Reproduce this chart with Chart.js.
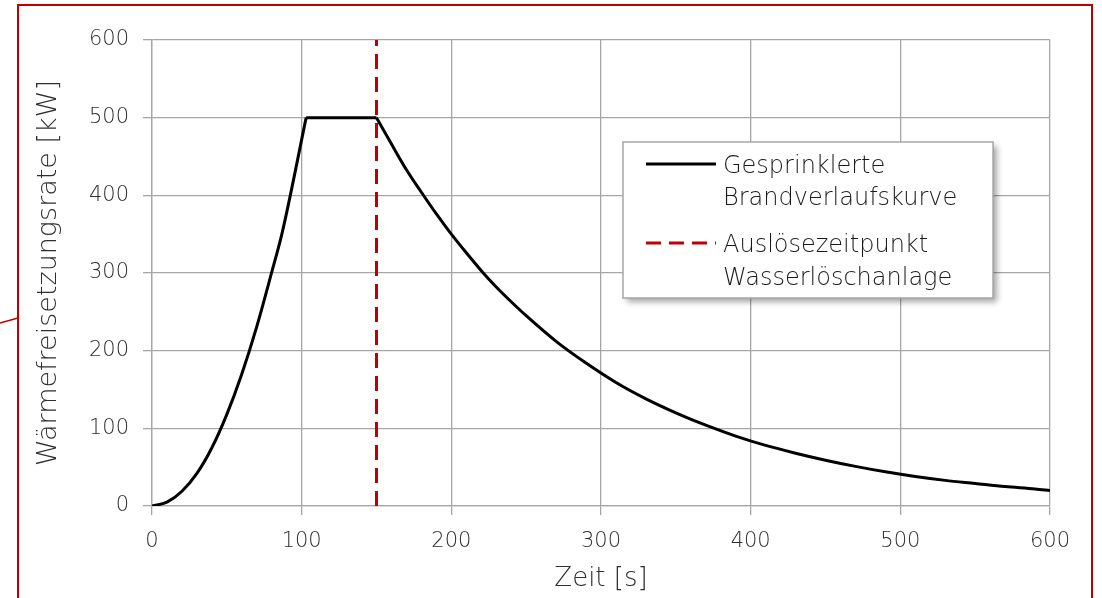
<!DOCTYPE html>
<html>
<head>
<meta charset="utf-8">
<script src="https://cdn.jsdelivr.net/npm/chart.js@4.4.0/dist/chart.umd.min.js"></script>
<style>
  html, body { margin: 0; padding: 0; background: #fff; }
  #wrap { position: relative; width: 1102px; height: 598px; }
</style>
</head>
<body>
<div id="wrap"><canvas id="hrrChart" width="1102" height="598"></canvas></div>
<script>
// Brandverlaufskurve, split in growth / plateau / decay
const growthTime = [0, 10, 20, 30, 40, 50, 60, 70, 80, 87, 103];
const growthHrr  = [0, 5, 19, 42, 75, 118, 170, 231, 301, 352, 500];
const plateauTime = [103, 150];
const plateauHrr  = [500, 500];
const decayTime = [150, 160, 170, 180, 190, 200, 210, 220, 230, 240, 250, 270, 290, 310, 330, 350, 370, 390, 410, 430, 450, 470, 490, 510, 530, 550, 570, 590, 600];
const decayHrr  = [500, 466, 433, 404, 376, 350, 326, 303, 282, 263, 245, 212, 184, 159, 138, 120, 104, 90, 78, 68, 59, 51, 44, 38, 33, 29, 25, 22, 20];

const triggerTime = 150;
const triggerRange = [0, 600];

const xTicks = [0, 100, 200, 300, 400, 500, 600];
const yTicks = [0, 100, 200, 300, 400, 500, 600];

const legendLabels = [
  ["Gesprinklerte", "Brandverlaufskurve"],
  ["Auslösezeitpunkt", "Wasserlöschanlage"]
];

const fontFamily = "'DejaVu Sans', sans-serif";
const fontWeight = 200;
const textColor = "#2e2e2e";
const red = "#c00000";

const toPoints = (xs, ys) => xs.map((x, i) => ({ x: x, y: ys[i] }));
const triggerPoints = triggerRange.map(v => ({ x: triggerTime, y: v }));

function curveSet(label, xs, ys) {
  return {
    label: label,
    data: toPoints(xs, ys),
    borderColor: "#000",
    borderWidth: 3,
    pointRadius: 0,
    cubicInterpolationMode: "monotone",
    borderJoinStyle: "round",
    fill: false
  };
}

// legend box + frame decorations
const decoPlugin = {
  id: "deco",
  afterDraw(chart) {
    const ctx = chart.ctx;
    ctx.save();

    // red frame
    ctx.strokeStyle = red;
    ctx.lineWidth = 2;
    ctx.beginPath();
    ctx.moveTo(18, 620);
    ctx.lineTo(18, 5);
    ctx.lineTo(1092, 5);
    ctx.lineTo(1092, 620);
    ctx.stroke();
    ctx.lineWidth = 1.5;
    ctx.beginPath();
    ctx.moveTo(0, 323);
    ctx.lineTo(18, 318);
    ctx.stroke();

    // legend box
    const bx = 623, by = 142, bw = 370, bh = 156;
    ctx.shadowColor = "rgba(0,0,0,0.35)";
    ctx.shadowBlur = 6;
    ctx.shadowOffsetX = 4;
    ctx.shadowOffsetY = 4;
    ctx.fillStyle = "#fff";
    ctx.fillRect(bx, by, bw, bh);
    ctx.shadowColor = "transparent";
    ctx.strokeStyle = "#a6a6a6";
    ctx.lineWidth = 1.5;
    ctx.strokeRect(bx, by, bw, bh);

    // legend samples
    ctx.lineWidth = 3;
    ctx.strokeStyle = "#000";
    ctx.setLineDash([]);
    ctx.beginPath();
    ctx.moveTo(646, 164);
    ctx.lineTo(716, 164);
    ctx.stroke();
    ctx.strokeStyle = red;
    ctx.setLineDash([15, 8]);
    ctx.beginPath();
    ctx.moveTo(646, 243);
    ctx.lineTo(716, 243);
    ctx.stroke();
    ctx.setLineDash([]);

    ctx.fillStyle = "#1a1a1a";
    ctx.font = fontWeight + " 24px " + fontFamily;
    ctx.textBaseline = "alphabetic";
    ctx.fillText(legendLabels[0][0], 723, 173);
    ctx.fillText(legendLabels[0][1], 723, 205);
    ctx.fillText(legendLabels[1][0], 723, 252);
    ctx.fillText(legendLabels[1][1], 723, 285);

    ctx.restore();
  }
};

const ctx = document.getElementById("hrrChart").getContext("2d");
ctx.letterSpacing = "1px";
const chart = new Chart(ctx, {
  type: "line",
  data: {
    datasets: [
      curveSet(legendLabels[0].join(" "), growthTime, growthHrr),
      curveSet("plateau", plateauTime, plateauHrr),
      curveSet("decay", decayTime, decayHrr),
      {
        label: legendLabels[1].join(" "),
        data: triggerPoints,
        borderColor: red,
        borderWidth: 3,
        borderDash: [15, 8],
        pointRadius: 0,
        fill: false
      }
    ]
  },
  options: {
    responsive: false,
    animation: false,
    layout: { padding: { left: 0, top: 40, right: 52, bottom: 0 } },
    plugins: {
      legend: { display: false },
      tooltip: { enabled: false }
    },
    scales: {
      x: {
        type: "linear",
        min: 0,
        max: 600,
        afterBuildTicks: axis => { axis.ticks = xTicks.map(v => ({ value: v })); },
        afterFit: axis => { axis.height = 92; },
        grid: { color: "#a6a6a6", lineWidth: 1.3, tickLength: 9 },
        border: { color: "#a6a6a6", width: 1.3 },
        ticks: { color: textColor, font: { family: fontFamily, size: 21, weight: fontWeight }, padding: 14, maxRotation: 0 },
        title: {
          display: true,
          text: "Zeit [s]",
          color: textColor,
          font: { family: fontFamily, size: 26, weight: fontWeight },
          padding: { top: 0, bottom: 3 }
        }
      },
      y: {
        min: 0,
        max: 600,
        afterBuildTicks: axis => { axis.ticks = yTicks.map(v => ({ value: v })); },
        afterFit: axis => { axis.width = 152; },
        grid: { color: "#a6a6a6", lineWidth: 1.3, tickLength: 9 },
        border: { color: "#a6a6a6", width: 1.3 },
        ticks: { color: textColor, font: { family: fontFamily, size: 21, weight: fontWeight }, padding: 14 },
        title: {
          display: true,
          text: "Wärmefreisetzungsrate [kW]",
          color: textColor,
          font: { family: fontFamily, size: 27, weight: fontWeight },
          padding: { top: 33, bottom: 0 }
        }
      }
    }
  },
  plugins: [decoPlugin]
});
</script>
</body>
</html>
